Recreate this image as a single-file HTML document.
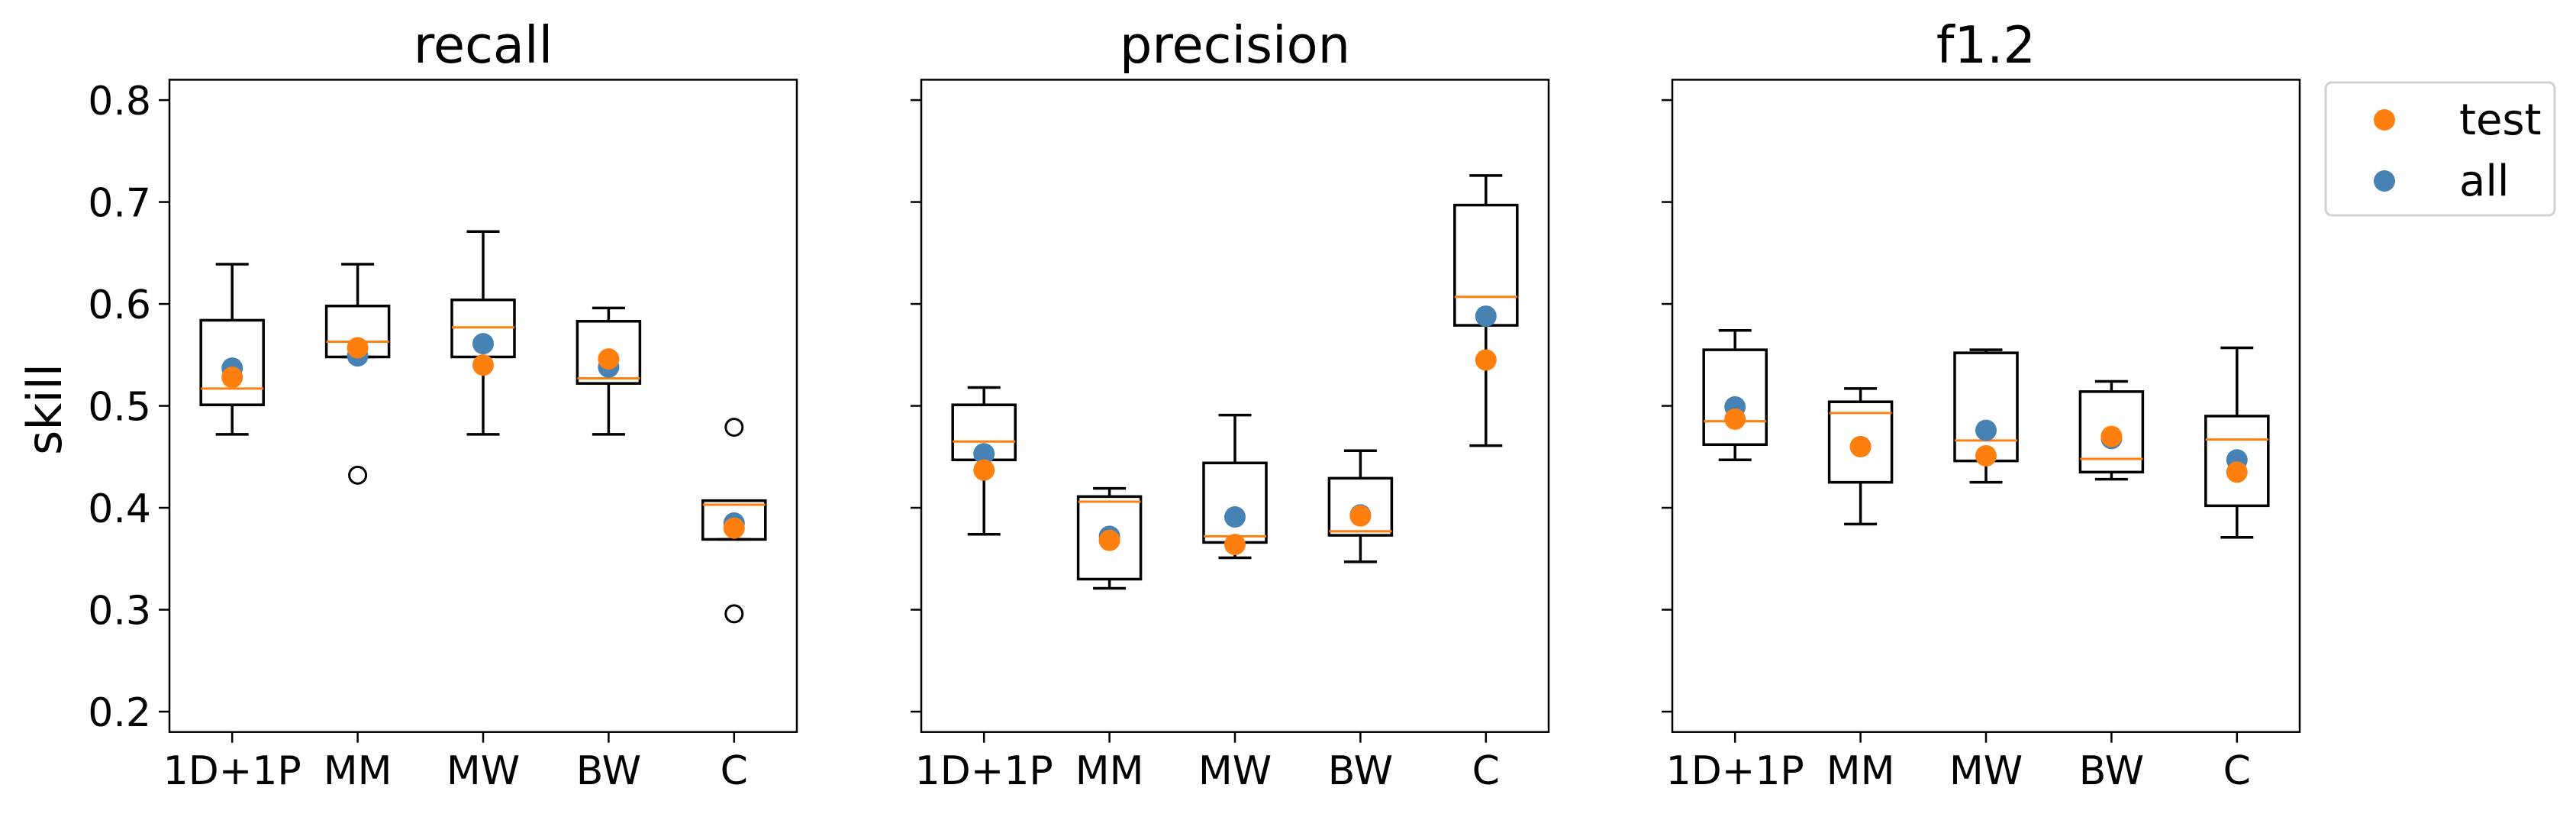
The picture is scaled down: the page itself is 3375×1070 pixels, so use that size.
<!DOCTYPE html>
<html><head><meta charset="utf-8"><style>
html,body{margin:0;padding:0;background:#fff;}
svg{display:block;font-family:"DejaVu Sans","Liberation Sans",sans-serif;}
</style></head><body>
<svg id="chart" width="3375" height="1070" viewBox="0 0 3375 1070" xmlns="http://www.w3.org/2000/svg"></svg>
<script>
const categories = ["1D+1P","MM","MW","BW","C"];
const panelTitles = ["recall","precision","f1.2"];
const yTicks = [0.2,0.3,0.4,0.5,0.6,0.7,0.8];
const yTickLabels = ["0.2","0.3","0.4","0.5","0.6","0.7","0.8"];
// [whiskerLow, q1, median, q3, whiskerHigh]
const recallBoxes = [[0.472,0.501,0.517,0.584,0.639],[0.548,0.548,0.563,0.598,0.639],[0.472,0.548,0.577,0.604,0.671],[0.472,0.522,0.527,0.583,0.596],[0.369,0.369,0.403,0.407,0.407]];
const recallOutliers = [[],[0.432],[],[],[0.479,0.296]];
const recallAll = [0.537,0.549,0.561,0.538,0.385];
const recallTest = [0.528,0.557,0.540,0.546,0.380];
const precisionBoxes = [[0.374,0.447,0.465,0.501,0.518],[0.321,0.330,0.406,0.411,0.419],[0.351,0.366,0.372,0.444,0.491],[0.347,0.373,0.377,0.429,0.456],[0.461,0.579,0.607,0.697,0.726]];
const precisionOutliers = [[],[],[],[],[]];
const precisionAll = [0.453,0.372,0.391,0.393,0.588];
const precisionTest = [0.437,0.368,0.364,0.392,0.545];
const f12Boxes = [[0.447,0.462,0.485,0.555,0.574],[0.384,0.425,0.493,0.504,0.517],[0.425,0.446,0.466,0.552,0.555],[0.428,0.435,0.448,0.514,0.524],[0.371,0.402,0.467,0.490,0.557]];
const f12Outliers = [[],[],[],[],[]];
const f12All = [0.499,0.460,0.476,0.468,0.447];
const f12Test = [0.487,0.460,0.451,0.470,0.435];

const panels = [
  {left:222,boxes:recallBoxes,out:recallOutliers,all:recallAll,test:recallTest},
  {left:1207,boxes:precisionBoxes,out:precisionOutliers,all:precisionAll,test:precisionTest},
  {left:2191,boxes:f12Boxes,out:f12Outliers,all:f12All,test:f12Test}
];
const NS="http://www.w3.org/2000/svg";
const svg=document.getElementById('chart');
const TOP=104.4,BOT=958.7,W=822,Y0=0.18,Y1=0.82;
function yS(v){return BOT-(v-Y0)/(Y1-Y0)*(BOT-TOP);}
function mk(tag,attrs,parent){const e=document.createElementNS(NS,tag);for(const k in attrs)e.setAttribute(k,attrs[k]);(parent||svg).appendChild(e);return e;}
panels.forEach((p,pi)=>{
  const g=mk('g',{});
  
  
  const xS=i=>p.left+(i+0.5)*W/5;
  const t=mk('text',{x:p.left+W/2,y:82,'font-size':67,'text-anchor':'middle',fill:'#000'},g);
  t.textContent=panelTitles[pi];
  
  
  yTicks.forEach((v,k)=>{
    const tk=mk('line',{x1:p.left-14,x2:p.left,y1:yS(v),y2:yS(v),stroke:'#000','stroke-width':2.5},g);
    
    
    if(pi===0){
      const l=mk('text',{x:p.left-24,y:yS(v)+19,'font-size':52,'text-anchor':'end',fill:'#000'},g);
      l.textContent=yTickLabels[k];
      
      
    }
  });
  categories.forEach((c,i)=>{
    const x=xS(i);
    const tk=mk('line',{x1:x,x2:x,y1:BOT,y2:BOT+14,stroke:'#000','stroke-width':2.5},g);
    
    
    const l=mk('text',{x:x,y:1027,'font-size':52,'text-anchor':'middle',fill:'#000'},g);
    l.textContent=c;
    
    
    const b=p.boxes[i];const hw=41,cw=21.5;
    const bg=mk('g',{stroke:'#000','stroke-width':3.5,fill:'none'},g);
    
    
    mk('line',{x1:x,x2:x,y1:yS(b[0]),y2:yS(b[1])},bg);
    mk('line',{x1:x,x2:x,y1:yS(b[3]),y2:yS(b[4])},bg);
    mk('line',{x1:x-cw,x2:x+cw,y1:yS(b[0]),y2:yS(b[0])},bg);
    mk('line',{x1:x-cw,x2:x+cw,y1:yS(b[4]),y2:yS(b[4])},bg);
    mk('rect',{x:x-hw,y:yS(b[3]),width:2*hw,height:yS(b[1])-yS(b[3])},bg);
    const med=mk('line',{x1:x-hw,x2:x+hw,y1:yS(b[2]),y2:yS(b[2]),stroke:'#ff7f0e','stroke-width':3},g);
    
    
    p.out[i].forEach(v=>{
      const o=mk('circle',{cx:x,cy:yS(v),r:11,fill:'none',stroke:'#000','stroke-width':3},g);
      
      
    });
    const a=mk('circle',{cx:x,cy:yS(p.all[i]),r:14,fill:'#4682b4'},g);
    
    
    const te=mk('circle',{cx:x,cy:yS(p.test[i]),r:14,fill:'#ff7f0e'},g);
    
    
  });
  const fr=mk('rect',{x:p.left,y:TOP,width:W,height:BOT-TOP,fill:'none',stroke:'#000','stroke-width':2.5},g);
  
  
});
const yl=mk('text',{x:0,y:0,'font-size':62,'text-anchor':'middle',fill:'#000',transform:'translate(80,536) rotate(-90)'});
yl.textContent='skill';


const lg=mk('g',{});


mk('rect',{x:3047,y:108,width:300,height:174,rx:8,fill:'#fff',stroke:'#d0d0d0','stroke-width':3},lg);
const lgItems=[["test","#ff7f0e",157],["all","#4682b4",237]];
lgItems.forEach(it=>{
  const c=mk('circle',{cx:3124,cy:it[2],r:14,fill:it[1]},lg);
  
  
  const t=mk('text',{x:3222,y:it[2]+19,'font-size':56,fill:'#000'},lg);
  t.textContent=it[0];
  
  
});
</script>
</body></html>
